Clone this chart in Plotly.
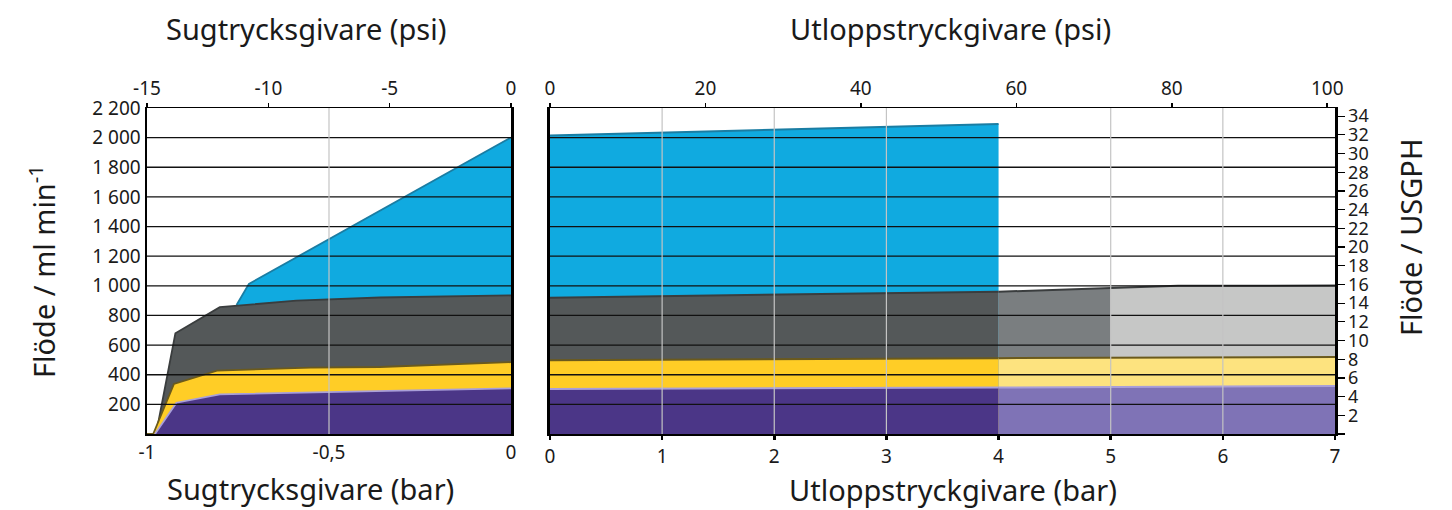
import plotly.graph_objects as go

# ---------------- data (ml/min vs pressure in bar) ----------------
# Left panel: suction pressure (bar)
suc_blue_x = [-0.754, -0.72, 0.0]
suc_blue_y = [871, 1013, 2001]
suc_gray_x = [-0.975, -0.922, -0.80, -0.59, -0.36, 0.0]
suc_gray_y = [0, 680, 856, 900, 921, 935]
suc_yellow_x = [-1.0, -0.983, -0.926, -0.808, -0.55, -0.36, 0.0]
suc_yellow_y = [0, 0, 338, 428, 448, 452, 485]
suc_purple_x = [-0.978, -0.919, -0.80, -0.55, 0.0]
suc_purple_y = [0, 211, 268, 280, 308]

# Right panel: outlet pressure (bar)
out_blue_x = [0, 4]
out_blue_y = [2015, 2092]
out_gray_x = [0, 4, 5, 5.6, 7]
out_gray_y = [920, 960, 985, 1000, 1002]
out_yellow_x = [0, 4, 7]
out_yellow_y = [498, 512, 520]
out_purple_x = [0, 4, 7]
out_purple_y = [304, 313, 324]

left_bar_ticks = [-1, -0.5, 0]
left_bar_labels = ["-1", "-0,5", "0"]
left_psi_ticks = [-15, -10, -5, 0]
left_psi_labels = ["-15", "-10", "-5", "0"]
right_bar_ticks = [0, 1, 2, 3, 4, 5, 6, 7]
right_psi_ticks = [0, 20, 40, 60, 80, 100]
flow_ticks = [200, 400, 600, 800, 1000, 1200, 1400, 1600, 1800, 2000, 2200]
flow_labels = ["200", "400", "600", "800", "1 000", "1 200", "1 400", "1 600",
               "1 800", "2 000", "2 200"]
usgph_ticks = list(range(0, 35, 2))
ML_PER_MIN_PER_USGPH = 3785.411784 / 60.0

# ---------------- colours ----------------
C_BLUE, L_BLUE = "#10aae0", "#1a7da3"
C_GRAY, L_GRAY = "#545859", "#3a3d3e"
C_GRAY_M = "#7a7e80"
C_GRAY_L = "#c6c7c6"
C_YEL, L_YEL = "#ffcd26", "#6b5a1c"
C_YEL_L = "#fde37f"
C_PUR, L_PUR = "#4b3687", "#a99fd9"
C_PUR_L = "#7f73b6"


def seg(xs, ys, lo, hi):
    px = [x for x in xs if lo <= x <= hi]
    py = [y for x, y in zip(xs, ys) if lo <= x <= hi]
    return px, py


fig = go.Figure()


def area(x, y, fill, line, xa="x", ya="y", lw=1.8):
    fig.add_trace(go.Scatter(x=x, y=y, mode="lines", fill="tozeroy",
                             fillcolor=fill, line=dict(color=line, width=lw),
                             xaxis=xa, yaxis=ya, hoverinfo="skip"))


# left panel
area(suc_blue_x, suc_blue_y, C_BLUE, L_BLUE)
area(suc_gray_x, suc_gray_y, C_GRAY, L_GRAY)
area(suc_yellow_x, suc_yellow_y, C_YEL, L_YEL)
area(suc_purple_x, suc_purple_y, C_PUR, L_PUR)

# right panel
area(out_blue_x, out_blue_y, C_BLUE, L_BLUE, "x3", "y3", 2)
for (lo, hi, col) in [(0, 4, C_GRAY), (4, 5, C_GRAY_M), (5, 7, C_GRAY_L)]:
    sx, sy = seg(out_gray_x, out_gray_y, lo, hi)
    area(sx, sy, col, L_GRAY, "x3", "y3", 2)
for (lo, hi, col) in [(0, 4, C_YEL), (4, 7, C_YEL_L)]:
    sx, sy = seg(out_yellow_x, out_yellow_y, lo, hi)
    area(sx, sy, col, L_YEL, "x3", "y3", 2)
for (lo, hi, col) in [(0, 4, C_PUR), (4, 7, C_PUR_L)]:
    sx, sy = seg(out_purple_x, out_purple_y, lo, hi)
    area(sx, sy, col, L_PUR, "x3", "y3", 2)

# invisible carriers so that the secondary (psi / USGPH) axes are drawn
fig.add_trace(go.Scatter(x=[left_psi_ticks[0], left_psi_ticks[-1]], y=[0, 0],
                         mode="markers", marker=dict(opacity=0), xaxis="x2", yaxis="y",
                         hoverinfo="skip"))
fig.add_trace(go.Scatter(x=[right_psi_ticks[0], right_psi_ticks[-1]], y=[0, 0],
                         mode="markers", marker=dict(opacity=0), xaxis="x4", yaxis="y3",
                         hoverinfo="skip"))
fig.add_trace(go.Scatter(x=[0, 0], y=[usgph_ticks[0], usgph_ticks[-1]],
                         mode="markers", marker=dict(opacity=0), xaxis="x3", yaxis="y4",
                         hoverinfo="skip"))

# grid lines drawn above the fills
shapes = []
for v in flow_ticks[:-1]:
    shapes.append(dict(type="line", xref="x domain", yref="y", x0=0, x1=1, y0=v, y1=v,
                       line=dict(color="#111111", width=1.3), layer="above"))
    shapes.append(dict(type="line", xref="x3 domain", yref="y3", x0=0, x1=1, y0=v, y1=v,
                       line=dict(color="#111111", width=1.3), layer="above"))
shapes.append(dict(type="line", xref="x", yref="y domain", x0=-0.5, x1=-0.5, y0=0, y1=1,
                   line=dict(color="#c4c4c4", width=1.2), layer="above"))
for v in [1, 2, 3, 5, 6]:
    shapes.append(dict(type="line", xref="x3", yref="y3 domain", x0=v, x1=v, y0=0, y1=1,
                       line=dict(color="#c4c4c4", width=1.2), layer="above"))

XL = [0, 0.3064]
XR = [0.3392, 1]
tf = dict(family="Noto Sans", size=19, color="#1a1a1a")
tf_r = dict(family="Noto Sans", size=18, color="#1a1a1a")

fig.update_layout(
    width=1452, height=510,
    margin=dict(l=147, r=117, t=108, b=76),
    plot_bgcolor="white", paper_bgcolor="white",
    showlegend=False,
    font=dict(family="Noto Sans", size=19, color="#1a1a1a"),
    shapes=shapes,
    xaxis=dict(domain=XL, range=[-1, 0], anchor="y", tickvals=left_bar_ticks,
               ticktext=left_bar_labels, showgrid=False, zeroline=False,
               showline=True, linecolor="black", linewidth=2, ticks="",
               tickfont=tf),
    xaxis2=dict(overlaying="x", side="top", range=[-15, 0], anchor="y",
                tickvals=left_psi_ticks, ticktext=left_psi_labels,
                showgrid=False, zeroline=False,
                showline=True, linecolor="black", linewidth=1.5,
                ticks="outside", ticklen=4, tickwidth=1.5, tickcolor="black",
                tickfont=tf),
    yaxis=dict(domain=[0, 1], range=[0, 2200], anchor="x", tickvals=flow_ticks,
               ticktext=flow_labels, showgrid=False, zeroline=False,
               showline=True, linecolor="black", linewidth=2.5, mirror=True,
               ticks="", tickfont=tf),
    xaxis3=dict(domain=XR, range=[0, 7], anchor="y3", tickvals=right_bar_ticks,
                showgrid=False, zeroline=False, showline=True, linecolor="black",
                linewidth=2, ticks="outside", ticklen=4, tickwidth=2.5,
                tickcolor="black", tickfont=tf),
    xaxis4=dict(overlaying="x3", side="top", range=[0, 101], anchor="y3",
                tickvals=right_psi_ticks, showgrid=False, zeroline=False,
                showline=True, linecolor="black", linewidth=1.5,
                ticks="outside", ticklen=4, tickwidth=1.5, tickcolor="black",
                tickfont=tf),
    yaxis3=dict(domain=[0, 1], range=[0, 2200], anchor="x3", showticklabels=False,
                showgrid=False, zeroline=False, showline=True, linecolor="black",
                linewidth=2.5, ticks=""),
    yaxis4=dict(overlaying="y3", side="right", anchor="x3",
                range=[0, 2200 / ML_PER_MIN_PER_USGPH],
                tickvals=usgph_ticks,
                ticktext=[" "] + [str(v) for v in usgph_ticks[1:]],
                showgrid=False, zeroline=False, showline=True, linecolor="black",
                linewidth=2.5, ticks="outside", ticklen=7, tickwidth=1.2,
                tickcolor="black", tickfont=tf_r),
)

af = dict(family="Noto Sans", size=29, color="#1a1a1a")
ann = [
    dict(text="Sugtrycksgivare (psi)", x=(306 - 147) / 1188, y=(434 - 28) / 326),
    dict(text="Utloppstryckgivare (psi)", x=(950 - 147) / 1188, y=(434 - 28) / 326),
    dict(text="Sugtrycksgivare (bar)", x=(310 - 147) / 1188, y=(434 - 488) / 326),
    dict(text="Utloppstryckgivare (bar)", x=(953 - 147) / 1188, y=(434 - 490) / 326),
    dict(text="Flöde / ml min<sup>-1</sup>", x=(42 - 147) / 1188, y=(434 - 272) / 326,
         textangle=-90),
    dict(text="Flöde / USGPH", x=(1410 - 147) / 1188, y=(434 - 238) / 326,
         textangle=-90),
]
for a in ann:
    fig.add_annotation(xref="paper", yref="paper", showarrow=False,
                       xanchor="center", yanchor="middle", font=af, **a)

fig.write_html("out.html", config={"staticPlot": True},
               post_script="document.body.style.margin='0';document.body.style.overflow='hidden';")
